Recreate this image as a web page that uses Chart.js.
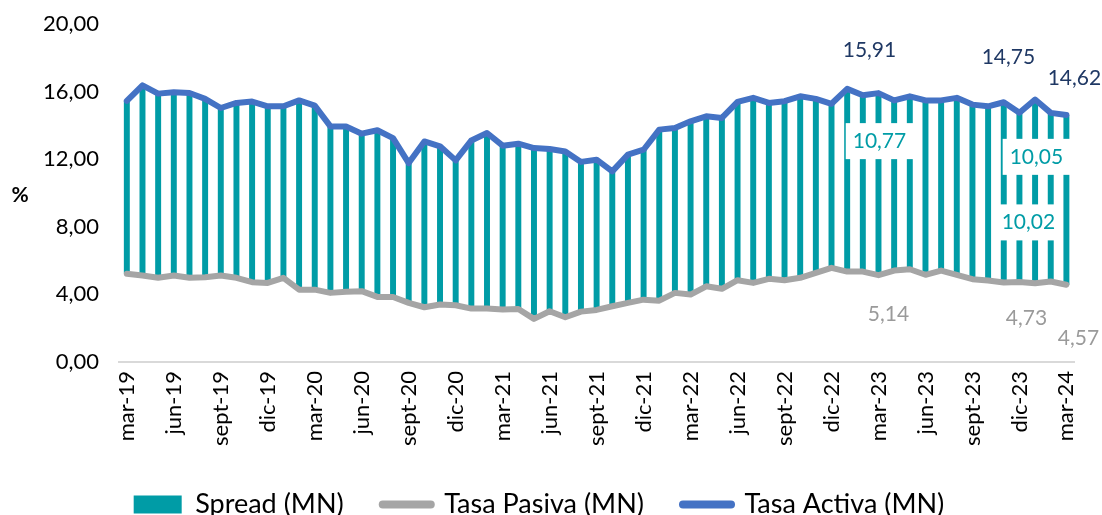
<!DOCTYPE html>
<html>
<head>
<meta charset="utf-8">
<script src="https://cdn.jsdelivr.net/npm/chart.js@4.4.1/dist/chart.umd.min.js"></script>
<style>
  html, body { margin: 0; padding: 0; background: #fff; }
  #wrap { width: 1102px; height: 515px; }
</style>
</head>
<body>
<div id="wrap"><canvas id="myChart" width="1102" height="515"></canvas></div>
<script>
const categories = [
  'mar-19','abr-19','may-19','jun-19','jul-19','ago-19','sept-19','oct-19','nov-19','dic-19','ene-20','feb-20',
  'mar-20','abr-20','may-20','jun-20','jul-20','ago-20','sept-20','oct-20','nov-20','dic-20','ene-21','feb-21',
  'mar-21','abr-21','may-21','jun-21','jul-21','ago-21','sept-21','oct-21','nov-21','dic-21','ene-22','feb-22',
  'mar-22','abr-22','may-22','jun-22','jul-22','ago-22','sept-22','oct-22','nov-22','dic-22','ene-23','feb-23',
  'mar-23','abr-23','may-23','jun-23','jul-23','ago-23','sept-23','oct-23','nov-23','dic-23','ene-24','feb-24',
  'mar-24'
];

const tasaActiva = [
  15.45, 16.37, 15.88, 15.96, 15.92, 15.57, 15.03, 15.33, 15.41, 15.13, 15.13, 15.48,
  15.17, 13.94, 13.93, 13.51, 13.71, 13.25, 11.77, 13.05, 12.76, 11.93, 13.11, 13.55,
  12.80, 12.92, 12.66, 12.60, 12.46, 11.84, 11.97, 11.28, 12.27, 12.56, 13.75, 13.85,
  14.24, 14.54, 14.44, 15.39, 15.63, 15.33, 15.43, 15.72, 15.57, 15.28, 16.16, 15.78,
  15.91, 15.48, 15.72, 15.48, 15.48, 15.63, 15.23, 15.13, 15.37, 14.75, 15.53, 14.74,
  14.62
];

const tasaPasiva = [
  5.22, 5.12, 4.98, 5.12, 4.98, 5.02, 5.12, 4.98, 4.72, 4.68, 4.98, 4.28,
  4.28, 4.09, 4.15, 4.19, 3.85, 3.85, 3.50, 3.24, 3.40, 3.36, 3.16, 3.16,
  3.10, 3.14, 2.55, 3.00, 2.65, 2.98, 3.08, 3.30, 3.50, 3.69, 3.63, 4.09,
  3.99, 4.48, 4.33, 4.84, 4.68, 4.92, 4.84, 4.98, 5.27, 5.57, 5.35, 5.35,
  5.14, 5.41, 5.49, 5.16, 5.41, 5.16, 4.90, 4.82, 4.70, 4.73, 4.66, 4.76,
  4.57
];

// spread = activa - pasiva, drawn as a floating bar between both rates
const spread = tasaActiva.map((v, i) => Math.round((v - tasaPasiva[i]) * 100) / 100);

const yTicks = [0, 4, 8, 12, 16, 20];

// months with value labels
const labeledIdx = [48, 57, 60];

const fmt = v => v.toFixed(2).replace('.', ',');
const FONT = 'Lato';

const COL_SPREAD = '#009CA6';
const COL_PASIVA = '#A5A5A5';
const COL_ACTIVA = '#4472C4';

// label offsets (px) relative to the point / bar middle, per labeled month
const activaOff = [[-9, -43], [-11, -55], [8, -37]];
const spreadOff = [[1, -43], [9, 25], [-30, -43]];
const pasivaOff = [[10, 39], [7, 36], [12, 53]];

const labelPlugin = {
  id: 'valueLabels',
  afterDatasetsDraw(chart) {
    const ctx = chart.ctx;
    const x = chart.scales.x, y = chart.scales.y;
    ctx.save();
    ctx.font = '21px ' + FONT;
    ctx.textAlign = 'center';
    ctx.textBaseline = 'middle';
    labeledIdx.forEach((idx, k) => {
      const px = x.getPixelForValue(idx);
      // activa
      ctx.fillStyle = '#1F3864';
      ctx.fillText(fmt(tasaActiva[idx]), px + activaOff[k][0], y.getPixelForValue(tasaActiva[idx]) + activaOff[k][1]);
      // spread with white box
      const mid = y.getPixelForValue((tasaActiva[idx] + tasaPasiva[idx]) / 2);
      const sx = px + spreadOff[k][0], sy = mid + spreadOff[k][1];
      const txt = fmt(spread[idx]);
      const w = ctx.measureText(txt).width + 14;
      ctx.fillStyle = '#ffffff';
      ctx.fillRect(sx - w / 2, sy - 18, w, 36);
      ctx.fillStyle = COL_SPREAD;
      ctx.fillText(txt, sx, sy);
      // pasiva
      ctx.fillStyle = '#9A9A9A';
      ctx.fillText(fmt(tasaPasiva[idx]), px + pasivaOff[k][0], y.getPixelForValue(tasaPasiva[idx]) + pasivaOff[k][1]);
    });
    // y unit
    ctx.fillStyle = '#000';
    ctx.font = 'bold 21px ' + FONT;
    ctx.fillText('%', 20, (chart.chartArea.top + chart.chartArea.bottom) / 2 + 2);
    ctx.restore();
  }
};

const ctx = document.getElementById('myChart').getContext('2d');
new Chart(ctx, {
  type: 'bar',
  data: {
    labels: categories,
    datasets: [
      {
        type: 'bar',
        label: 'Spread (MN)',
        data: tasaPasiva.map((p, i) => [p, p + spread[i]]),
        backgroundColor: COL_SPREAD,
        borderWidth: 0,
        categoryPercentage: 1,
        barPercentage: 0.38,
        order: 3
      },
      {
        type: 'line',
        label: 'Tasa Pasiva (MN)',
        data: tasaPasiva,
        borderColor: COL_PASIVA,
        backgroundColor: COL_PASIVA,
        borderWidth: 6,
        pointRadius: 0,
        tension: 0,
        borderJoinStyle: 'round',
        borderCapStyle: 'round',
        order: 2
      },
      {
        type: 'line',
        label: 'Tasa Activa (MN)',
        data: tasaActiva,
        borderColor: COL_ACTIVA,
        backgroundColor: COL_ACTIVA,
        borderWidth: 6,
        pointRadius: 0,
        tension: 0,
        borderJoinStyle: 'round',
        borderCapStyle: 'round',
        order: 1
      }
    ]
  },
  options: {
    responsive: false,
    animation: false,
    layout: { padding: { top: 24, right: 24, left: 0, bottom: 0 } },
    plugins: {
      tooltip: { enabled: false },
      legend: {
        position: 'bottom',
        maxHeight: 63,
        labels: {
          font: { family: FONT, size: 27 },
          color: '#000',
          usePointStyle: true,
          pointStyleWidth: 48,
          boxHeight: 18,
          padding: 39,
          sort: (a, b) => a.datasetIndex - b.datasetIndex,
          generateLabels(chart) {
            return chart.data.datasets.map((ds, i) => ({
              text: ds.label,
              datasetIndex: i,
              fillStyle: ds.type === 'bar' ? COL_SPREAD : ds.borderColor,
              strokeStyle: ds.type === 'bar' ? COL_SPREAD : ds.borderColor,
              lineWidth: ds.type === 'bar' ? 0 : 8,
              lineCap: 'round',
              pointStyle: ds.type === 'bar' ? 'rect' : 'line',
              fontColor: '#000',
              hidden: false
            }));
          }
        }
      }
    },
    scales: {
      x: {
        grid: { display: false, drawTicks: false },
        border: { display: true, color: '#D9D9D9', width: 2 },
        ticks: {
          autoSkip: false,
          maxRotation: 90,
          minRotation: 90,
          padding: 9,
          color: '#000',
          font: { family: FONT, size: 22 },
          callback: function (val, i) { return i % 3 === 0 ? categories[i] : null; }
        },
        afterFit(scale) { scale.height = 90; }
      },
      y: {
        min: 0,
        max: 20,
        afterBuildTicks(scale) { scale.ticks = yTicks.map(v => ({ value: v })); },
        grid: { display: false, drawTicks: false },
        border: { display: false },
        ticks: {
          padding: 20,
          color: '#000',
          font: { family: FONT, size: 22 },
          callback: v => fmt(v)
        },
        afterFit(scale) {
          scale.width = 119;
          scale.paddingTop = 0;
          scale.paddingBottom = 0;
        }
      }
    }
  },
  plugins: [labelPlugin]
});
</script>
</body>
</html>
